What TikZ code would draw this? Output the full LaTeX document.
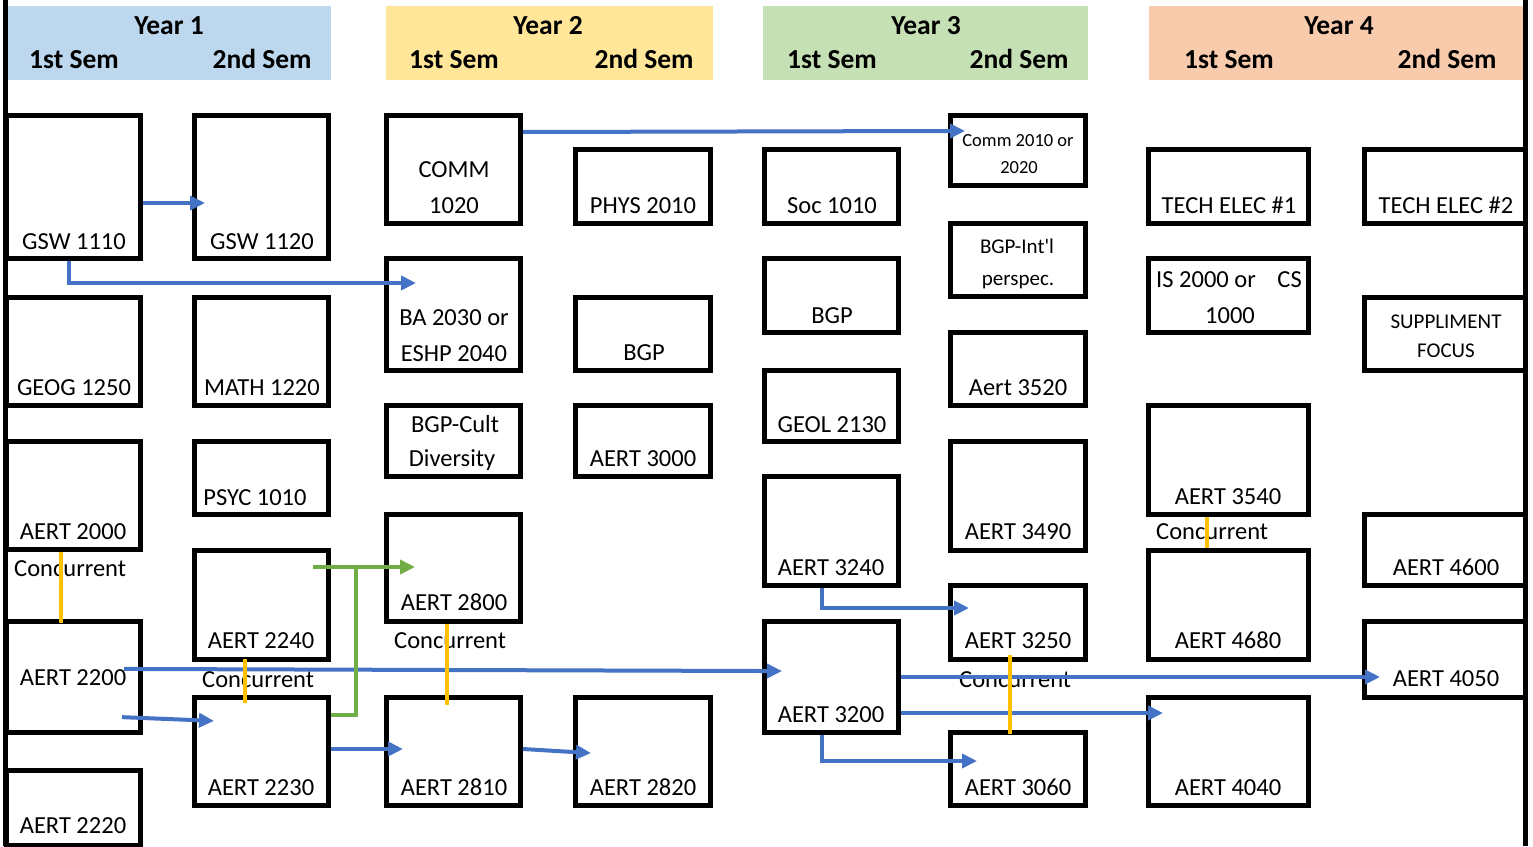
\documentclass[tikz,border=0pt]{standalone}
\usepackage{fontspec}
\setmainfont{Carlito}[Ligatures=TeXOff]
\usetikzlibrary{arrows.meta}
\definecolor{hblue}{HTML}{BDD7EE}
\definecolor{hyellow}{HTML}{FFE699}
\definecolor{hgreen}{HTML}{C5E0B4}
\definecolor{horange}{HTML}{F8CBAD}
\definecolor{ablue}{HTML}{4472C4}
\definecolor{agreen}{HTML}{70AD47}
\definecolor{conc}{HTML}{FFC000}
\tikzset{
  box/.style={draw=black, line width=5pt, inner sep=0pt, fill=white},
  lbl/.style={font=\fontsize{24.5}{28}\selectfont, inner sep=0pt, anchor=base},
  small/.style={lbl, font=\fontsize{18.5}{22}\selectfont},
  mid/.style={lbl, font=\fontsize{21}{24}\selectfont},
  hdr/.style={font=\bfseries\fontsize{27.5}{30}\selectfont, inner sep=0pt, anchor=base},
  barrow/.style={draw=ablue, line width=4pt, -{Triangle[length=15pt,width=14pt]}},
  garrow/.style={draw=agreen, line width=4pt, -{Triangle[length=15pt,width=14pt]}},
  gline/.style={draw=agreen, line width=4pt},
  cline/.style={draw=conc, line width=4.3pt},
  border/.style={draw=black, line width=5pt}
}
\newcommand\crs[5]{\node[box, minimum width={(#4)-(#2)-5}, minimum height={(#5)-(#3)-5}] (#1) at ({((#2)+(#4))/2},{((#3)+(#5))/2}) {};}
\newcommand\txt[4]{\node[lbl] (#1) at (#2,#3) {#4};}
\begin{document}
\begin{tikzpicture}[x=1pt,y=-1pt]
\useasboundingbox (0,0) rectangle (1533,846);
% headers
\fill[hblue] (8,6) rectangle (331,80);
\fill[hyellow] (386,6) rectangle (713,80);
\fill[hgreen] (763,6) rectangle (1088,80);
\fill[horange] (1149,6) rectangle (1523,80);
\node[hdr] (y1) at (169,34) {Year 1};
\node[hdr] (y1a) at (74,68) {1st Sem};
\node[hdr] (y1b) at (262,68) {2nd Sem};
\node[hdr] (y2) at (548,34) {Year 2};
\node[hdr] (y2a) at (454,68) {1st Sem};
\node[hdr] (y2b) at (644,68) {2nd Sem};
\node[hdr] (y3) at (926,34) {Year 3};
\node[hdr] (y3a) at (832,68) {1st Sem};
\node[hdr] (y3b) at (1019,68) {2nd Sem};
\node[hdr] (y4) at (1339,34) {Year 4};
\node[hdr] (y4a) at (1229,68) {1st Sem};
\node[hdr] (y4b) at (1447,68) {2nd Sem};
% borders
\draw[border] (5.5,0) -- (5.5,846);
\draw[border] (1525.5,0) -- (1525.5,846);
% column A
\crs{gsw1110}{4}{113}{143}{261}
\crs{geog1250}{4}{295}{143}{408}
\crs{aert2000}{4}{439}{143}{552}
\crs{aert2200}{4}{619}{143}{735}
\crs{aert2220}{4}{768}{143}{848}
% column B
\crs{gsw1120}{192}{113}{331}{261}
\crs{math1220}{192}{295}{331}{408}
\crs{psyc1010}{192}{439}{331}{517}
\crs{aert2240}{192}{548}{331}{662}
\crs{aert2230}{192}{695}{331}{808}
% column C
\crs{comm1020}{384}{113}{523}{226}
\crs{ba2030}{384}{256}{523}{373}
\crs{bgpcult}{384}{403}{523}{479}
\crs{aert2800}{384}{512}{523}{624}
\crs{aert2810}{384}{695}{523}{808}
% column D
\crs{phys2010}{573}{147}{713}{226}
\crs{bgpd}{573}{295}{713}{373}
\crs{aert3000}{573}{403}{713}{479}
\crs{aert2820}{573}{695}{713}{808}
% column E
\crs{soc1010}{762}{147}{901}{226}
\crs{bgpe}{762}{256}{901}{335}
\crs{geol2130}{762}{368}{901}{444}
\crs{aert3240}{762}{474}{901}{588}
\crs{aert3200}{762}{619}{901}{735}
% column F
\crs{comm2010}{948}{113}{1088}{188}
\crs{bgpintl}{948}{221}{1088}{299}
\crs{aert3520}{948}{330}{1088}{408}
\crs{aert3490}{948}{439}{1088}{553}
\crs{aert3250}{948}{583}{1088}{662}
\crs{aert3060}{948}{730}{1088}{808}
% column G
\crs{tech1}{1146}{147}{1311}{226}
\crs{is2000}{1146}{256}{1311}{335}
\crs{aert3540}{1146}{403}{1311}{517}
\crs{aert4680}{1146}{548}{1311}{662}
\crs{aert4040}{1146}{695}{1311}{808}
% column H
\crs{tech2}{1362}{147}{1528}{226}
\crs{suppl}{1362}{295}{1528}{373}
\crs{aert4600}{1362}{512}{1528}{588}
\crs{aert4050}{1362}{619}{1528}{700}
% texts
\txt{t1}{74}{249}{GSW 1110}
\txt{t2}{74}{395}{GEOG 1250}
\txt{t3}{73}{539}{AERT 2000}
\txt{t4}{73}{685}{AERT 2200}
\txt{t5}{73}{833}{AERT 2220}
\txt{t6}{262}{249}{GSW 1120}
\txt{t7}{262}{395}{MATH 1220}
\txt{t8}{255}{505}{PSYC 1010}
\txt{t9}{261}{648}{AERT 2240}
\txt{t10}{261}{795}{AERT 2230}
\txt{t11}{454}{177}{COMM}
\txt{t12}{454}{213}{1020}
\txt{t13}{454}{325}{BA 2030 or}
\txt{t14}{454}{361}{ESHP 2040}
\txt{t15}{455}{432}{BGP-Cult}
\txt{t16}{452}{466}{Diversity}
\txt{t17}{454}{610}{AERT 2800}
\txt{t18}{454}{795}{AERT 2810}
\txt{t19}{643}{213}{PHYS 2010}
\txt{t20}{644}{360}{BGP}
\txt{t21}{643}{466}{AERT 3000}
\txt{t22}{643}{795}{AERT 2820}
\txt{t23}{832}{213}{Soc 1010}
\txt{t24}{832}{323}{BGP}
\txt{t25}{832}{432}{GEOL 2130}
\txt{t26}{831}{575}{AERT 3240}
\txt{t27}{831}{722}{AERT 3200}
\node[small] (t28) at (1018,146) {Comm 2010 or};
\node[small] (t29) at (1019,173) {2020};
\node[mid] (t30) at (1017,253) {BGP-Int'l};
\node[mid] (t31) at (1018,285) {perspec.};
\txt{t32}{1018}{395}{Aert 3520}
\txt{t33}{1018}{539}{AERT 3490}
\txt{t34}{1018}{648}{AERT 3250}
\txt{t35}{1018}{795}{AERT 3060}
\txt{t36}{1229}{213}{TECH ELEC \#1}
\node[lbl, anchor=base west] (t37) at (1156,287) {IS 2000 or};
\node[lbl, anchor=base east] (t37b) at (1302,287) {CS};
\txt{t38}{1230}{323}{1000}
\txt{t39}{1228}{504}{AERT 3540}
\txt{t40}{1228}{648}{AERT 4680}
\txt{t41}{1228}{795}{AERT 4040}
\txt{t42}{1446}{213}{TECH ELEC \#2}
\node[mid] (t43) at (1446,328) {SUPPLIMENT};
\node[mid] (t44) at (1446,357) {FOCUS};
\txt{t45}{1446}{575}{AERT 4600}
\txt{t46}{1446}{686}{AERT 4050}
% concurrent labels
\node[lbl, anchor=base west] (c1) at (14,576) {Concurrent};
\node[lbl, anchor=base west] (c2) at (202,687) {Concurrent};
\node[lbl, anchor=base west] (c3) at (394,648) {Concurrent};
\node[lbl, anchor=base west] (c4) at (959,687) {Concurrent};
\node[lbl, anchor=base west] (c5) at (1156,539) {Concurrent};
% blue arrows
\draw[barrow, shorten >=-13pt] (gsw1110.east |- 0,203) -- (gsw1120.west |- 0,203);
\draw[barrow, shorten >=-32pt] (gsw1110.south -| 69,0) |- (ba2030.west |- 0,283);
\draw[barrow, shorten >=-17pt] (comm1020.east |- 0,132) -- (comm2010.west |- 0,131);
\draw[barrow, shorten <=-19pt, shorten >=-20pt] (aert2200.east |- 0,669) -- (aert3200.west |- 0,671);
\draw[barrow, shorten <=-21pt, shorten >=-22pt] (aert2200.east |- 0,718) -- (aert2230.west |- 0,720);
\draw[barrow, shorten >=-19pt] (aert2230.east |- 0,749) -- (aert2810.west |- 0,749);
\draw[barrow, shorten >=-18pt] (aert2810.east |- 0,749) -- (aert2820.west |- 0,752);
\draw[barrow, shorten >=-21pt] (aert3240.south -| 822,0) |- (aert3250.west |- 0,608);
\draw[barrow, shorten >=-18pt] (aert3200.east |- 0,677) -- (aert4050.west |- 0,677);
\draw[barrow, shorten >=-17pt] (aert3200.east |- 0,713) -- (aert4040.west |- 0,713);
\draw[barrow, shorten >=-29pt] (aert3200.south -| 822,0) |- (aert3060.west |- 0,761);
% green
\coordinate (gj) at (356,567);
\draw[garrow, shorten <=-18pt, shorten >=-31pt] (aert2240.east |- 0,567) -- (aert2800.west |- 0,567);
\draw[gline] (gj) |- (aert2230.east |- 0,715);
% concurrent lines
\draw[cline] (aert2000.south -| 61,0) -- ([yshift=-4pt]aert2200.north -| 61,0);
\draw[cline, shorten <=-3pt, shorten >=-8pt] (aert2240.south -| 245,0) -- (aert2230.north -| 245,0);
\draw[cline, shorten >=-10pt] (aert2800.south -| 447,0) -- (aert2810.north -| 447,0);
\draw[cline, shorten <=-7pt, shorten >=-4pt] (aert3250.south -| 1010,0) -- (aert3060.north -| 1010,0);
\draw[cline] (aert3540.south -| 1207,0) -- (aert4680.north -| 1207,0);
\end{tikzpicture}
\end{document}
